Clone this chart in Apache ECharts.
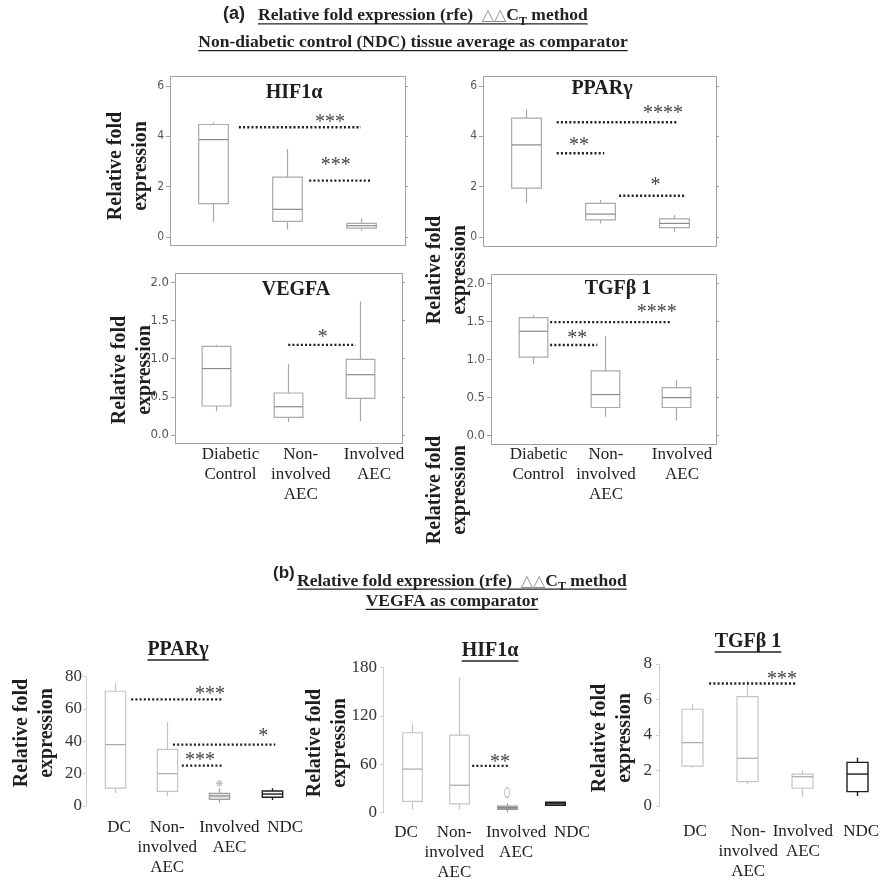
<!DOCTYPE html>
<html><head><meta charset="utf-8">
<script src="https://cdn.jsdelivr.net/npm/echarts@6/dist/echarts.min.js"></script>
<style>html,body{margin:0;padding:0;background:#fff}#c{width:880px;height:880px}</style>
</head><body><div id="c"></div>
<script>
// ================= DATA =================
// Part (a): NDC tissue average as comparator
const catsA = ['Diabetic\nControl', 'Non-\ninvolved\nAEC', 'Involved\nAEC'];
// each box: [min, Q1, median, Q3, max]
const hif1aA = [[0.6, 1.33, 3.87, 4.47, 4.55], [0.3, 0.62, 1.1, 2.38, 3.5], [0.25, 0.35, 0.45, 0.54, 0.74]];
const ppargA = [[1.34, 1.94, 3.66, 4.72, 5.07], [0.54, 0.68, 0.91, 1.34, 1.47], [0.21, 0.37, 0.54, 0.72, 0.87]];
const vegfaA = [[0.31, 0.38, 0.87, 1.16, 1.18], [0.17, 0.23, 0.37, 0.55, 0.93], [0.18, 0.48, 0.79, 0.99, 1.75]];
const tgfb1A = [[0.94, 1.03, 1.37, 1.55, 1.58], [0.25, 0.37, 0.54, 0.85, 1.31], [0.2, 0.37, 0.5, 0.63, 0.73]];
// Part (b): VEGFA as comparator
const catsB = ['DC', 'Non-\ninvolved\nAEC', 'Involved\nAEC', 'NDC'];
const ppargB = [[8, 11, 38, 71, 76], [6, 9, 20, 35, 52], [2, 4.1, 6.2, 7.8, 11], [3.7, 5.4, 7.4, 9.3, 11]];
const ppargBOut = [[2, 14]];
const hif1aB = [[4, 14, 54, 99, 110], [4, 11, 34, 96, 167], [0.5, 4.2, 6, 8.3, 11.6], [8.5, 9.2, 11, 12.9, 13.5]];
const hif1aBOut = [[2, 25]];
const tgfb1B = [[2.15, 2.25, 3.57, 5.45, 5.75], [1.24, 1.37, 2.69, 6.16, 7.05], [0.52, 1.0, 1.65, 1.8, 2.03], [0.56, 0.81, 1.8, 2.46, 2.72]];

// tick labels
const ticksA6 = ['0', '2', '4', '6'];
const ticksA2 = ['0.0', '0.5', '1.0', '1.5', '2.0'];
const ticksB80 = ['0', '20', '40', '60', '80'];
const ticksB180 = ['0', '60', '120', '180'];
const ticksB8 = ['0', '2', '4', '6', '8'];

// significance bars: [from (category units), to, level, star x (category units), star level, text]
const sigHif1aA = [[0.35, 2.0, 4.36, 1.58, 4.65, '***'], [1.30, 2.14, 2.24, 1.66, 2.94, '***']];
const sigPpargA = [[0.42, 2.06, 4.56, 1.85, 5.0, '****'], [0.42, 1.06, 3.33, 0.72, 3.73, '**'], [1.26, 2.16, 1.64, 1.75, 2.15, '*']];
const sigVegfaA = [[1.0, 1.94, 1.18, 1.48, 1.31, '*']];
const sigTgfb1A = [[0.24, 1.94, 1.49, 1.73, 1.65, '****'], [0.24, 0.9, 1.19, 0.62, 1.30, '**']];
const sigPpargB = [[0.31, 2.07, 66, 1.82, 70.5, '***'], [1.11, 3.07, 38, 2.84, 44.5, '*'], [1.28, 2.05, 25, 1.63, 29.7, '***']];
const sigHif1aB = [[1.27, 2.04, 58, 1.85, 65, '**']];
const sigTgfb1B = [[0.32, 1.91, 6.9, 1.64, 7.27, '***']];

const panelTitles = ['HIF1α', 'PPARγ', 'VEGFA', 'TGFβ 1', 'PPARγ', 'HIF1α', 'TGFβ 1'];
const yTitle = 'Relative fold\nexpression';
const headA1 = 'Relative fold expression (rfe)  ';
const headA2 = 'Non-diabetic control (NDC) tissue average as comparator';
const headB2 = 'VEGFA as comparator';

// ================= LAYOUT / STYLE =================
const SERIF = "'Liberation Serif','Times New Roman',serif";
const NARROW = "'Liberation Sans Narrow','DejaVu Sans Condensed','Liberation Sans',sans-serif";
const SANS = "'Liberation Sans',Arial,sans-serif";

const GA = {stroke: '#a9a9a9', med: '#8a8a8a', fill: 'rgba(255,255,255,0)'};
const GB = {stroke: '#c4c4c4', med: '#a8a8a8', fill: 'rgba(255,255,255,0)'};
const BK = {stroke: '#1e1e1e', med: '#1e1e1e', fill: '#ffffff'};
const GF = {stroke: '#a0a0a0', med: '#888', fill: '#e4e4e4'};
const GD = {stroke: '#999', med: '#777', fill: '#bdbdbd'};

const panels = [
  {part: 'a', cats: catsA, boxes: hif1aA, sig: sigHif1aA, ticks: ticksA6, grid: [176, 86, 222, 151], frame: [170, 76, 405, 245], title: 0, tcx: 294, tb: 100, ylab: [128, 166], showX: false, tickFs: 12, frac: 0.4, styles: [GA, GA, GA]},
  {part: 'a', cats: catsA, boxes: ppargA, sig: sigPpargA, ticks: ticksA6, grid: [488.4, 86, 222.75, 151], frame: [483, 76, 716, 246], title: 1, tcx: 602, tb: 96, ylab: [447, 270], showX: false, tickFs: 12, frac: 0.4, styles: [GA, GA, GA]},
  {part: 'a', cats: catsA, boxes: vegfaA, sig: sigVegfaA, ticks: ticksA2, grid: [180.6, 282.3, 215.25, 152.7], frame: [175, 273, 402, 443], title: 2, tcx: 296, tb: 297, ylab: [132, 370], showX: true, xm: 10, xoff: [14, 12.5, 14], tickFs: 13, frac: 0.4, styles: [GA, GA, GA]},
  {part: 'a', cats: catsA, boxes: tgfb1A, sig: sigTgfb1A, ticks: ticksA2, grid: [497.25, 283.3, 214.5, 152.4], frame: [491, 274, 716, 444], title: 3, tcx: 618, tb: 296, ylab: [447, 490], showX: true, xm: 9, xoff: [5.5, 1.5, 6], tickFs: 13, frac: 0.4, styles: [GA, GA, GA]},
  {part: 'b', cats: catsB, boxes: ppargB, sig: sigPpargB, out: ppargBOut, outSym: 'plus', ticks: ticksB80, grid: [88.9, 676.7, 208.8, 129.3], axisX: 86, ym: 4, title: 4, tcx: 178, tb: 657, ylab: [34, 733], showX: true, xm: 12, xoff: [4, 0, 10, 13.5], frac: 0.39, styles: [GB, GB, GF, BK]},
  {part: 'b', cats: catsB, boxes: hif1aB, sig: sigHif1aB, out: hif1aBOut, outSym: 'oval', ticks: ticksB180, grid: [387.6, 667.3, 191.2, 145.4], axisX: 383, ym: 6, title: 5, tcx: 490, tb: 658, ylab: [327, 743], showX: true, xm: 10, xoff: [-5.5, -5, 9, 17], frac: 0.41, styles: [GB, GB, GD, BK]},
  {part: 'b', cats: catsB, boxes: tgfb1B, sig: sigTgfb1B, ticks: ticksB8, grid: [663.9, 664, 220.8, 142], axisX: 659, ym: 7, title: 6, tcx: 748, tb: 649, ylab: [612, 738], showX: true, xm: 16, xoff: [3.5, 1.5, 1, 4], frac: 0.38, styles: [GB, GB, GB, BK]}
];

// ================= HELPERS =================
const mctx = document.createElement('canvas').getContext('2d');
function tw(text, font) { mctx.font = font; return mctx.measureText(text).width; }
function txt(text, x, base, fs, font, fill, align) {
  return {type: 'text', silent: true, x: x, y: base - 0.34 * fs,
    style: {text: text, font: font, fill: fill, align: align || 'left', verticalAlign: 'middle',
      textAlign: align || 'left', textVerticalAlign: 'middle'}};
}
function uline(x1, x2, y, w) {
  return {type: 'line', silent: true, shape: {x1: x1, y1: y, x2: x2, y2: y}, style: {stroke: '#222', lineWidth: w || 1.3}};
}

const graphics = [];
// ---- headers ----
function ctLine(x0, base, fs) {
  const fB = `bold ${fs}px ${SERIF}`;
  const triFs = 16;
  const fTri = `${triFs}px 'DejaVu Sans',sans-serif`;
  const fSub = `bold ${Math.round(fs * 0.68)}px ${SERIF}`;
  const parts = [[headA1, fB, fs, '#222', 0], ['△△', fTri, triFs, '#8a8a8a', 0], ['C', fB, fs, '#222', 0], ['T', fSub, Math.round(fs * 0.68), '#222', 4], [' method', fB, fs, '#222', 0]];
  let x = x0;
  parts.forEach(p => { graphics.push(txt(p[0], x, base + p[4], p[2], p[1], p[3])); x += tw(p[0], p[1]); });
  graphics.push(uline(x0, x, base + 2.2));
}
graphics.push(txt('(a)', 223, 20, 18, `bold 18px ${SANS}`, '#222'));
ctLine(258, 21.7, 17.5);
graphics.push(txt(headA2, 413, 48.3, 17.5, `bold 17.5px ${SERIF}`, '#222', 'center'));
(function () { const w = tw(headA2, `bold 17.5px ${SERIF}`); graphics.push(uline(413 - w / 2, 413 + w / 2, 50.6)); })();

graphics.push(txt('(b)', 273, 579, 17, `bold 17px ${SANS}`, '#222'));
ctLine(297, 587, 17.5);
graphics.push(txt(headB2, 452, 607, 17.5, `bold 17.5px ${SERIF}`, '#222', 'center'));
(function () { const w = tw(headB2, `bold 17.5px ${SERIF}`); graphics.push(uline(452 - w / 2, 452 + w / 2, 609.4)); })();

// ---- per panel decorations ----
panels.forEach(p => {
  const tf = `bold 20px ${SERIF}`;
  const t = panelTitles[p.title];
  graphics.push(txt(t, p.tcx, p.tb, 20, tf, '#1e1e1e', 'center'));
  if (p.part === 'b') { const w = tw(t, tf); graphics.push(uline(p.tcx - w / 2, p.tcx + w / 2, p.tb + 3, 1.4)); }
  graphics.push({type: 'text', silent: true, x: p.ylab[0], y: p.ylab[1], rotation: Math.PI / 2,
    style: {text: yTitle, font: `bold 20px ${SERIF}`, fill: '#1e1e1e', lineHeight: 25, align: 'center', verticalAlign: 'middle', textAlign: 'center', textVerticalAlign: 'middle'}});
  if (p.frame) {
    const f = p.frame;
    graphics.push({type: 'rect', silent: true, z: 1, shape: {x: f[0] + 0.5, y: f[1] + 0.5, width: f[2] - f[0], height: f[3] - f[1]}, style: {fill: 'none', stroke: '#a0a0a0', lineWidth: 1}});
  }
});

// ================= OPTION =================
const grids = [], xAxes = [], yAxes = [], series = [];
panels.forEach((p, gi) => {
  const g = p.grid;
  grids.push({left: g[0], top: g[1], width: g[2], height: g[3], containLabel: false, outerBoundsMode: 'none'});
  const rich = {};
  (p.xoff || []).forEach((o, i) => {
    rich['c' + i] = {fontFamily: SERIF, fontSize: 17, color: '#222', lineHeight: 20, padding: o >= 0 ? [0, 0, 0, 2 * o] : [0, -2 * o, 0, 0]};
  });
  xAxes.push({type: 'category', gridIndex: gi, data: p.cats, boundaryGap: true,
    axisLine: {show: false}, axisTick: {show: false}, splitLine: {show: false},
    axisLabel: {show: p.showX, interval: 0, margin: p.xm || 8, fontFamily: SERIF, fontSize: 17, color: '#222', lineHeight: 20,
      formatter: (v, i) => v.split('\n').map(s => `{c${i}|${s}}`).join('\n'), rich: rich}});
  const tv = p.ticks.map(Number);
  const mn = tv[0], mx = tv[tv.length - 1], iv = tv[1] - tv[0];
  const lab = v => { const k = Math.round((v - mn) / iv); return p.ticks[k] !== undefined ? p.ticks[k] : ''; };
  const yi = yAxes.length;
  if (p.part === 'a') {
    yAxes.push({type: 'value', gridIndex: gi, position: 'left', offset: g[0] - p.frame[0], min: mn, max: mx, interval: iv,
      axisLine: {show: false}, axisTick: {show: true, length: 4, lineStyle: {color: '#a0a0a0'}}, splitLine: {show: false},
      axisLabel: {margin: 6, fontFamily: NARROW, fontSize: p.tickFs, color: '#555', formatter: lab}});
    yAxes.push({type: 'value', gridIndex: gi, position: 'right', offset: p.frame[2] - (g[0] + g[2]), min: mn, max: mx, interval: iv,
      axisLine: {show: false}, axisTick: {show: true, length: 3, lineStyle: {color: '#a0a0a0'}}, splitLine: {show: false},
      axisLabel: {show: false}});
  } else {
    yAxes.push({type: 'value', gridIndex: gi, position: 'left', offset: g[0] - p.axisX, min: mn, max: mx, interval: iv,
      axisLine: {show: true, lineStyle: {color: '#cfcfcf', width: 1}}, axisTick: {show: true, length: 3, lineStyle: {color: '#cfcfcf'}}, splitLine: {show: false},
      axisLabel: {margin: p.ym, fontFamily: SERIF, fontSize: 17, color: '#333', formatter: lab}});
  }
  // boxes
  const boxes = p.boxes;
  series.push({type: 'custom', xAxisIndex: gi, yAxisIndex: yi, z: 3, silent: true,
    data: boxes.map((b, i) => [i, b[2]]),
    renderItem: (params, api) => {
      const k = params.dataIndex, b = boxes[k], st = p.styles[k];
      const x = Math.round(api.coord([k, b[0]])[0]) + 0.5;
      const w = api.size([1, 0])[0] * p.frac;
      const y = b.map(v => api.coord([k, v])[1]);
      const lw = st === BK ? 1.4 : 1.2;
      return {type: 'group', children: [
        {type: 'line', shape: {x1: x, y1: y[4], x2: x, y2: y[3]}, style: {stroke: st.stroke, lineWidth: lw}},
        {type: 'line', shape: {x1: x, y1: y[1], x2: x, y2: y[0]}, style: {stroke: st.stroke, lineWidth: lw}},
        {type: 'rect', shape: {x: x - w / 2, y: y[3], width: w, height: Math.max(y[1] - y[3], 1)}, style: {fill: st.fill, stroke: st.stroke, lineWidth: lw}},
        {type: 'line', shape: {x1: x - w / 2, y1: y[2], x2: x + w / 2, y2: y[2]}, style: {stroke: st.med, lineWidth: lw}}
      ]};
    }});
  // significance bars
  const sig = p.sig;
  series.push({type: 'custom', xAxisIndex: gi, yAxisIndex: yi, z: 4, silent: true,
    data: sig.map(s => [0, s[2]]),
    renderItem: (params, api) => {
      const s = sig[params.dataIndex];
      const o = api.coord([0, s[2]]);
      const bw = api.size([1, 0])[0];
      const ty = api.coord([0, s[4]])[1];
      return {type: 'group', children: [
        {type: 'line', shape: {x1: o[0] + s[0] * bw, y1: o[1], x2: o[0] + s[1] * bw, y2: o[1]}, style: {stroke: '#1e1e1e', lineWidth: 2.4, lineDash: [2, 2.2]}},
        {type: 'text', x: o[0] + s[3] * bw, y: ty + 2.6, style: {text: s[5], font: `20px ${SERIF}`, fill: '#444', align: 'center', verticalAlign: 'middle', textAlign: 'center', textVerticalAlign: 'middle'}}
      ]};
    }});
  // outliers
  if (p.out) {
    series.push({type: 'scatter', xAxisIndex: gi, yAxisIndex: yi, z: 3, silent: true, data: p.out,
      symbol: p.outSym === 'plus' ? 'path://M5,0L5,10M0,5L10,5M1.5,1.5L8.5,8.5M8.5,1.5L1.5,8.5' : 'circle',
      symbolSize: p.outSym === 'plus' ? 7 : [5, 10],
      itemStyle: {color: 'rgba(0,0,0,0)', borderColor: '#b0b0b0', borderWidth: 1.2}});
  }
});

const chart = echarts.init(document.getElementById('c'), null, {renderer: 'canvas'});
chart.setOption({
  backgroundColor: '#ffffff',
  animation: false,
  grid: grids, xAxis: xAxes, yAxis: yAxes, series: series,
  graphic: {elements: graphics}
});
</script>
</body></html>
